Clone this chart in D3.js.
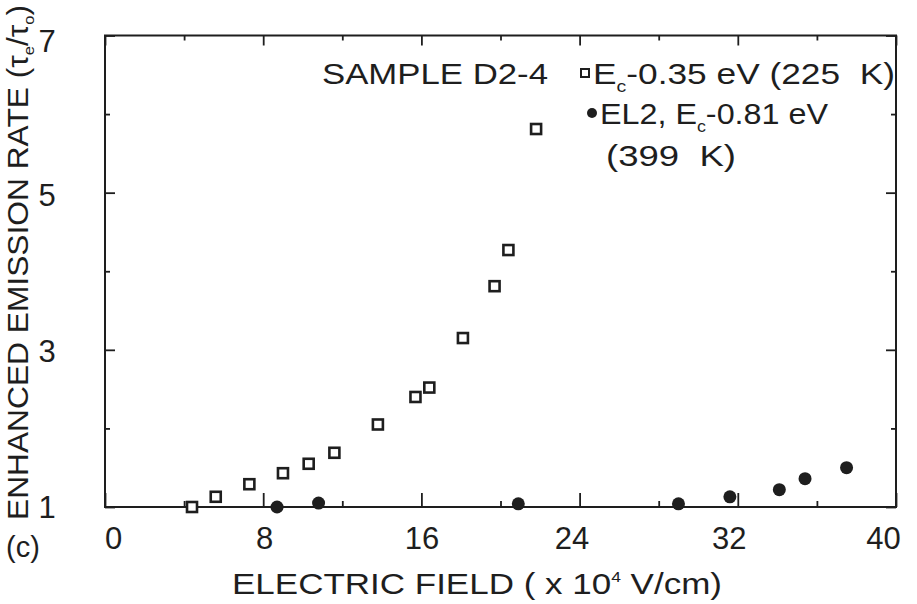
<!DOCTYPE html>
<html>
<head>
<meta charset="utf-8">
<script src="https://cdn.jsdelivr.net/npm/d3@7"></script>
<style>
  body { margin: 0; background: #fff; }
  svg text { font-family: "Liberation Sans", Arial, sans-serif; fill: #1e1e1e; }
</style>
</head>
<body>
<div id="chart"></div>
<script>
// Data
var shallowField = [4.4, 5.6, 7.3, 9.0, 10.3, 11.6, 13.8, 15.7, 16.4, 18.1, 19.7, 20.4, 21.8];
var shallowRate  = [1.0, 1.13, 1.29, 1.43, 1.55, 1.69, 2.05, 2.40, 2.52, 3.15, 3.81, 4.27, 5.81];
var el2Field = [8.7, 10.8, 20.9, 29.0, 31.6, 34.1, 35.4, 37.5];
var el2Rate  = [1.0, 1.05, 1.04, 1.04, 1.13, 1.22, 1.36, 1.50];
var xTicks = [0, 8, 16, 24, 32, 40];
var xMinor = [4, 12, 20, 28, 36];
var yTicks = [1, 3, 5, 7];
var yMinor = [2, 4, 6];

var ink = "#1e1e1e";
var margin = { top: 35.5, right: 21, bottom: 97, left: 105 };
var width = 917 - margin.left - margin.right;
var height = 604 - margin.top - margin.bottom;

var svg = d3.select("#chart")
  .append("svg")
  .attr("width", 917)
  .attr("height", 604)
  .append("g")
  .attr("transform", "translate(" + margin.left + "," + margin.top + ")");

var x = d3.scaleLinear().domain([0, 40]).range([0, width]);
var y = d3.scaleLinear().domain([1, 7]).range([height, 0]);

// frame
svg.append("rect")
  .attr("width", width)
  .attr("height", height)
  .attr("fill", "none")
  .attr("stroke", ink)
  .attr("stroke-width", 2);

// inward ticks on all four sides
function ticks(axis, vals, size, tr) {
  var g = svg.append("g")
    .attr("transform", tr)
    .call(axis.tickValues(vals).tickSize(size).tickFormat(""));
  g.select(".domain").remove();
  g.selectAll("line").attr("stroke", ink).attr("stroke-width", 1.8);
}
ticks(d3.axisTop(x), xTicks, 14, "translate(0," + height + ")");
ticks(d3.axisTop(x), xMinor, 6, "translate(0," + height + ")");
ticks(d3.axisBottom(x), xTicks, 10, "translate(0,0)");
ticks(d3.axisBottom(x), xMinor, 5, "translate(0,0)");
ticks(d3.axisRight(y), yTicks, 10, "translate(0,0)");
ticks(d3.axisRight(y), yMinor, 5, "translate(0,0)");
ticks(d3.axisLeft(y), yTicks, 10, "translate(" + width + ",0)");
ticks(d3.axisLeft(y), yMinor, 5, "translate(" + width + ",0)");

// tick labels (nudged like the hand-lettered originals)
var xShift = { 0: 8, 8: 1, 16: 0, 24: -8, 32: -9, 40: -13 };
var xLab = svg.append("g")
  .attr("transform", "translate(0," + height + ")")
  .call(d3.axisBottom(x).tickValues(xTicks).tickSize(0).tickPadding(20));
xLab.select(".domain").remove();
xLab.selectAll("text")
  .style("font-size", "31px")
  .attr("fill", ink)
  .attr("dx", function(d) { return xShift[d]; });

var yShift = { 1: 1, 3: 2, 5: 3, 7: 6 };
var yLab = svg.append("g")
  .call(d3.axisLeft(y).tickValues(yTicks).tickSize(0).tickPadding(58).tickFormat(d3.format("d")));
yLab.select(".domain").remove();
yLab.selectAll("text")
  .style("font-size", "31px")
  .style("text-anchor", "middle")
  .attr("fill", ink)
  .attr("y", function(d) { return yShift[d]; });

// open squares
var sq = 10;
svg.selectAll(".sq")
  .data(shallowField)
  .enter().append("rect")
  .attr("class", "sq")
  .attr("x", function(d) { return x(d) - sq / 2; })
  .attr("y", function(d, i) { return y(shallowRate[i]) - sq / 2; })
  .attr("width", sq)
  .attr("height", sq)
  .attr("fill", "#fff")
  .attr("stroke", ink)
  .attr("stroke-width", 2.6);

// filled circles
svg.selectAll(".dot")
  .data(el2Field)
  .enter().append("circle")
  .attr("class", "dot")
  .attr("cx", function(d) { return x(d); })
  .attr("cy", function(d, i) { return y(el2Rate[i]); })
  .attr("r", 6.5)
  .attr("fill", ink);

// legend (page coordinates)
var root = d3.select("svg");
var fs = "29px";

function fit(t, len) {
  return t.attr("textLength", len).attr("lengthAdjust", "spacingAndGlyphs");
}

fit(root.append("text"), 226)
  .attr("x", 322).attr("y", 84)
  .style("font-size", fs)
  .text("SAMPLE D2-4");

root.append("rect")
  .attr("x", 581).attr("y", 69).attr("width", 8).attr("height", 8)
  .attr("fill", "#fff").attr("stroke", ink).attr("stroke-width", 2);
var l1 = fit(root.append("text"), 302).attr("x", 593).attr("y", 84)
  .style("font-size", fs).style("white-space", "pre");
l1.append("tspan").text("E");
l1.append("tspan").attr("dy", 8).style("font-size", "16px").text("c");
l1.append("tspan").attr("dy", -8).text("-0.35 eV (225  K)");

root.append("circle").attr("cx", 592).attr("cy", 113).attr("r", 5).attr("fill", ink);
var l2 = fit(root.append("text"), 228).attr("x", 600).attr("y", 124)
  .style("font-size", fs).style("white-space", "pre");
l2.append("tspan").text("EL2, E");
l2.append("tspan").attr("dy", 8).style("font-size", "16px").text("c");
l2.append("tspan").attr("dy", -8).text("-0.81 eV");

fit(root.append("text"), 130).attr("x", 606).attr("y", 166)
  .style("font-size", fs).style("white-space", "pre")
  .text("(399  K)");

// axis titles
fit(root.append("text"), 490)
  .attr("x", 232).attr("y", 594)
  .style("font-size", "30px")
  .style("white-space", "pre")
  .call(function(t) {
    t.append("tspan").text("ELECTRIC FIELD ( x 10");
    t.append("tspan").attr("dy", -12).style("font-size", "15px").text("4");
    t.append("tspan").attr("dy", 12).text(" V/cm)");
  });

var yt = fit(root.append("text"), 515)
  .attr("transform", "translate(28,520) rotate(-90)")
  .style("font-size", "29px");
yt.append("tspan").text("ENHANCED EMISSION RATE (\u03c4");
yt.append("tspan").attr("dy", 6).style("font-size", "15px").text("e");
yt.append("tspan").attr("dy", -6).text("/\u03c4");
yt.append("tspan").attr("dy", 6).style("font-size", "15px").text("o");
yt.append("tspan").attr("dy", -6).text(")");

root.append("text")
  .attr("x", 6).attr("y", 557)
  .style("font-size", "29px")
  .text("(c)");
</script>
</body>
</html>
